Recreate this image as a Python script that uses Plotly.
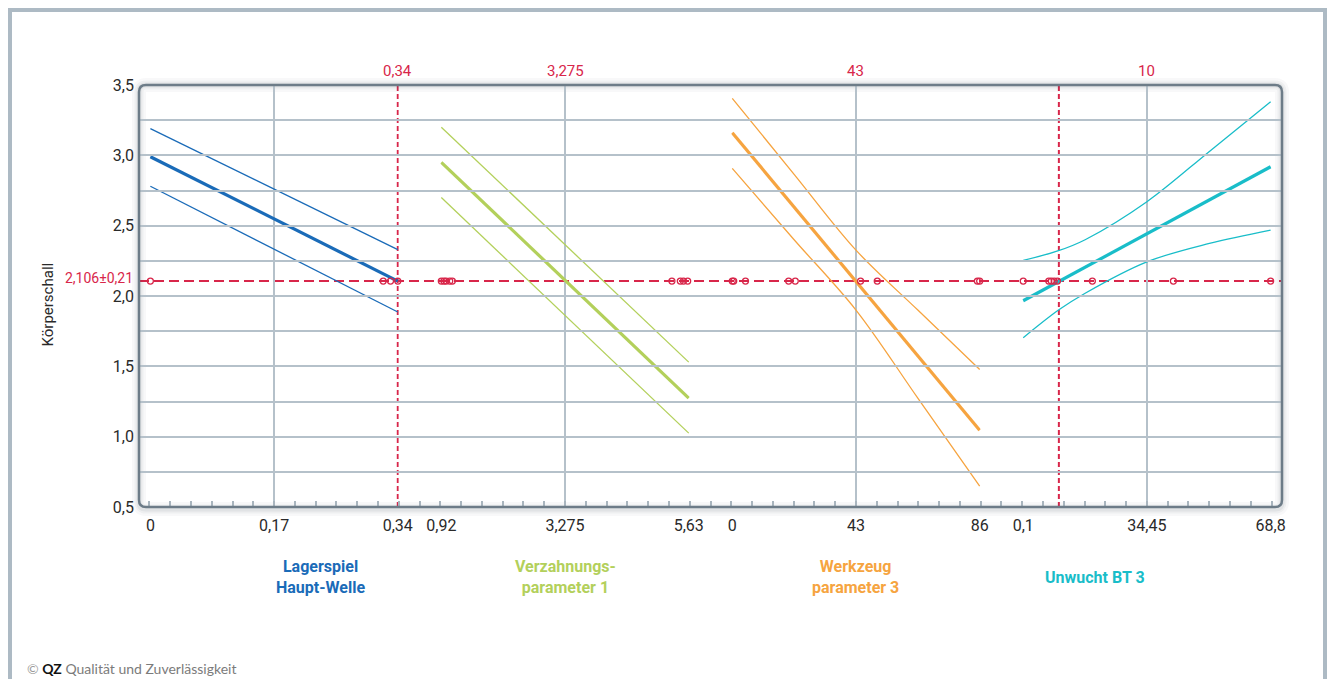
import plotly.graph_objects as go

# ---------------- data ----------------
response_value = 2.106
response_label = "2,106±0,21"
y_tick_vals = [0.5, 0.75, 1.0, 1.25, 1.5, 1.75, 2.0, 2.25, 2.5, 2.75, 3.0, 3.25, 3.5]
y_tick_text = ["0,5", "", "1,0", "", "1,5", "", "2,0", "", "2,5", "", "3,0", "", "3,5"]

factor_names = ["Lagerspiel<br>Haupt-Welle", "Verzahnungs-<br>parameter 1",
                "Werkzeug<br>parameter 3", "Unwucht BT 3"]
factor_colors = ["#1a6bb8", "#b3d05b", "#f6a440", "#19bdc9"]
current_values = [0.34, 3.275, 43, 10]
current_labels = ["0,34", "3,275", "43", "10"]

x_tick_vals = [[0, 0.17, 0.34], [0.92, 3.275, 5.63], [0, 43, 86], [0.1, 34.45, 68.8]]
x_tick_text = [["0", "0,17", "0,34"], ["0,92", "3,275", "5,63"], ["0", "43", "86"], ["0,1", "34,45", "68,8"]]

# Lagerspiel Haupt-Welle
lager_x = [0, 0.34]
lager_mid = [2.99, 2.106]
lager_up = [3.19, 2.33]
lager_lo = [2.78, 1.886]
lager_obs = [0, 0.32, 0.33, 0.34]

# Verzahnungsparameter 1
verz_x = [0.92, 5.63]
verz_mid = [2.95, 1.274]
verz_up = [3.20, 1.53]
verz_lo = [2.70, 1.025]
verz_obs = [0.92, 0.97, 1.01, 1.08, 1.13, 5.31, 5.47, 5.53, 5.61]

# Werkzeug parameter 3
werk_x = [0, 86]
werk_mid = [3.161, 1.046]
werk_band_x = [0, 21.5, 43, 64.5, 86]
werk_up = [3.405, 2.865, 2.326, 1.90, 1.478]
werk_lo = [2.907, 2.40, 1.90, 1.274, 0.648]
werk_obs = [0, 0.5, 4.6, 19.6, 21.9, 44.6, 50.4, 85.2, 86]

# Unwucht BT 3
unw_x = [0.1, 68.8]
unw_mid = [1.966, 2.919]
unw_band_x = [0.1, 9.9, 17.3, 34.45, 51.8, 68.8]
unw_up = [2.253, 2.322, 2.40, 2.67, 3.028, 3.381]
unw_lo = [1.703, 1.90, 2.02, 2.243, 2.374, 2.469]
unw_obs = [0.1, 7.2, 7.9, 8.7, 9.6, 19.3, 41.8, 68.8]

panels = [
    dict(x=lager_x, mid=lager_mid, bx=lager_x, up=lager_up, lo=lager_lo, obs=lager_obs),
    dict(x=verz_x, mid=verz_mid, bx=verz_x, up=verz_up, lo=verz_lo, obs=verz_obs),
    dict(x=werk_x, mid=werk_mid, bx=werk_band_x, up=werk_up, lo=werk_lo, obs=werk_obs),
    dict(x=unw_x, mid=unw_mid, bx=unw_band_x, up=unw_up, lo=unw_lo, obs=unw_obs),
]

# ---------------- layout geometry ----------------
W, H = 1329, 679
ML, MR, MT, MB = 139, 47, 85, 172
PW, PH = W - ML - MR, H - MT - MB
UNITS = 55.0  # 4 panels x 12 units + 3 gaps x 2 units + 2 half units

FONT = "Liberation Sans Narrow, Roboto, sans-serif"
GRID = "#b5c1ca"
RED = "#d8264a"
TXT = "#2a2a2a"

fig = go.Figure()

layout_axes = {}
for k, p in enumerate(panels):
    ax = "" if k == 0 else str(k + 1)
    col = factor_colors[k]
    xref = "x" + ax
    fig.add_trace(go.Scatter(x=p["bx"], y=p["up"], xaxis=xref, yaxis="y", mode="lines",
                             line=dict(color=col, width=1.3, shape="spline"), hoverinfo="skip"))
    fig.add_trace(go.Scatter(x=p["bx"], y=p["lo"], xaxis=xref, yaxis="y", mode="lines",
                             line=dict(color=col, width=1.3, shape="spline"), hoverinfo="skip"))
    fig.add_trace(go.Scatter(x=p["x"], y=p["mid"], xaxis=xref, yaxis="y", mode="lines",
                             line=dict(color=col, width=3.2), hoverinfo="skip"))
    fig.add_trace(go.Scatter(x=p["obs"], y=[response_value] * len(p["obs"]), xaxis=xref, yaxis="y",
                             mode="markers",
                             marker=dict(symbol="circle-open", size=6, color=RED, line=dict(width=1.3, color=RED)),
                             hoverinfo="skip", cliponaxis=False))
    d0 = (0.5 + 14 * k) / UNITS
    d1 = (12.5 + 14 * k) / UNITS
    tv = x_tick_vals[k]
    pad = (tv[-1] - tv[0]) * 0.004
    layout_axes["xaxis" + ax] = dict(
        domain=[d0, d1], anchor="y", range=[tv[0] - pad, tv[-1] + pad],
        tickmode="array", tickvals=tv, ticktext=x_tick_text[k],
        showgrid=True, gridcolor=GRID, gridwidth=2, zeroline=False, showline=False,
        ticks="", tickfont=dict(family=FONT, size=16, color=TXT), ticklabelstandoff=7,
    )
    fig.add_shape(type="line", xref=xref, yref="paper", x0=current_values[k], x1=current_values[k],
                  y0=0, y1=1, line=dict(color=RED, width=2, dash="5px,3px"), layer="between")
    if k < 3:
        fig.add_annotation(x=current_values[k], xref=xref, y=1, yref="paper", yshift=14,
                           text=current_labels[k], showarrow=False, yanchor="middle",
                           font=dict(family=FONT, size=15, color=RED))
    else:
        fig.add_annotation(x=(1157 - ML) / PW, xref="paper", y=1, yref="paper", yshift=14,
                           text=current_labels[k], showarrow=False, yanchor="middle",
                           font=dict(family=FONT, size=15, color=RED))
    fig.add_annotation(x=(d0 + d1) / 2, xref="paper", y=0, yref="paper", yshift=-70,
                       text="<b>" + factor_names[k] + "</b>", showarrow=False, yanchor="middle",
                       font=dict(family=FONT, size=16, color=col))

# full-width axis for the small bottom ticks (and continuous horizontal grid)
fig.add_trace(go.Scatter(x=[None], y=[None], xaxis="x5", yaxis="y", mode="lines", hoverinfo="skip"))
layout_axes["xaxis5"] = dict(domain=[0, 1], anchor="y", range=[-0.5, UNITS - 0.5],
                             tickmode="linear", tick0=0, dtick=1, ticks="inside", ticklen=6,
                             tickwidth=1.5, tickcolor="#a9b5be", showticklabels=False,
                             showgrid=False, zeroline=False, showline=False)

# horizontal response line
fig.add_shape(type="line", xref="paper", yref="y", x0=0, x1=1, y0=response_value, y1=response_value,
              line=dict(color=RED, width=2, dash="10px,5px"), layer="between")
fig.add_annotation(x=-4 / PW, xref="paper", y=response_value, yref="y", xanchor="right", yanchor="middle",
                   yshift=3, text=response_label, showarrow=False,
                   font=dict(family=FONT, size=14, color=RED))

# y-axis title
fig.add_annotation(x=(48 - ML) / PW, xref="paper", xanchor="center", y=0.48, yref="paper",
                   yanchor="middle", textangle=-90,
                   text="Körperschall", showarrow=False, font=dict(family=FONT, size=15, color=TXT))

# copyright
fig.add_annotation(x=(25 - ML) / PW, xref="paper", xanchor="left", y=-(668 - (H - MB)) / PH,
                   yref="paper", yanchor="middle", showarrow=False,
                   text="<span style='color:#9a9a9a'>©</span> <b><span style='color:#111'>QZ</span></b> Qualität und Zuverlässigkeit",
                   font=dict(family="Lato, Open Sans, sans-serif", size=14, color="#7b7b7b"))

# rounded plot border with soft shadow
rx, ry = 7 / PW, 7 / PH
def rrect(x0, y0, x1, y1):
    return (f"M {x0+rx},{y1} L {x1-rx},{y1} Q {x1},{y1} {x1},{y1-ry} L {x1},{y0+ry} "
            f"Q {x1},{y0} {x1-rx},{y0} L {x0+rx},{y0} Q {x0},{y0} {x0},{y0+ry} "
            f"L {x0},{y1-ry} Q {x0},{y1} {x0+rx},{y1} Z")
for w, a in [(14, 0.035), (9, 0.05), (5, 0.07)]:
    fig.add_shape(type="path", xref="paper", yref="paper", path=rrect(0, -2 / PH, 1, 1),
                  line=dict(color=f"rgba(60,70,80,{a})", width=w), layer="below")
fig.add_shape(type="path", xref="paper", yref="paper", path=rrect(0, 0, 1, 1),
              line=dict(color="#6d7c88", width=2.5), layer="above")

# outer frame
fig.add_shape(type="rect", xref="paper", yref="paper",
              x0=(10 - ML) / PW, x1=(1325 - ML) / PW, y0=-(H + 20 - PH - MT) / PH, y1=(H - MB - 10) / PH,
              line=dict(color="#adbac4", width=4), layer="below")

fig.update_layout(
    width=W, height=H, margin=dict(l=ML, r=MR, t=MT, b=MB),
    paper_bgcolor="white", plot_bgcolor="rgba(0,0,0,0)", showlegend=False,
    yaxis=dict(range=[0.5, 3.5], anchor="x5", tickmode="array", tickvals=y_tick_vals, ticktext=y_tick_text,
               showgrid=True, gridcolor=GRID, gridwidth=2, zeroline=False, showline=False, ticks="",
               tickfont=dict(family=FONT, size=16, color=TXT), ticklabelstandoff=4),
    **layout_axes,
)

fig.write_html("out.html", config={"displayModeBar": False},
               post_script="document.body.style.margin='0';document.body.style.overflow='hidden';")
